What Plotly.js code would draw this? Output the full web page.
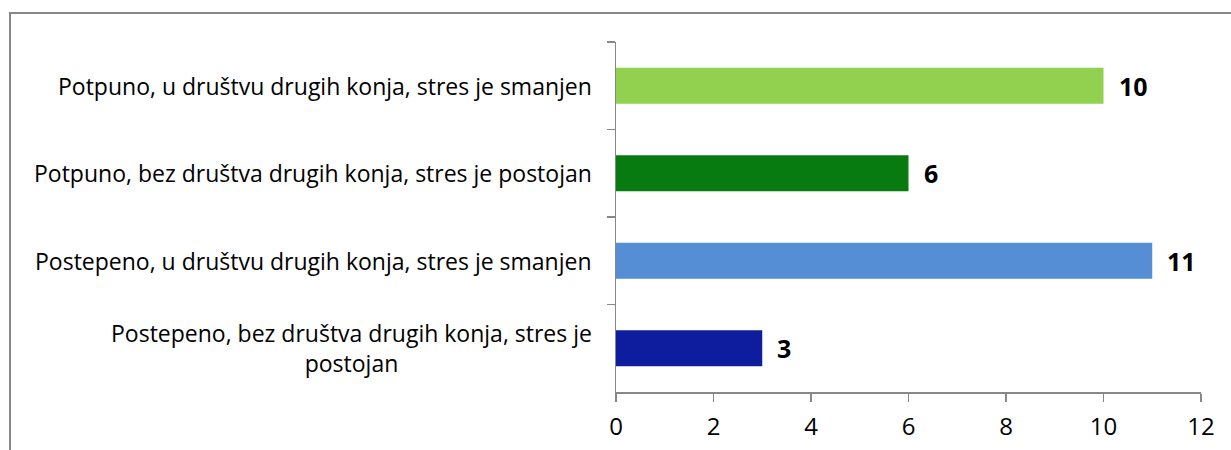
<!DOCTYPE html>
<html>
<head>
<meta charset="utf-8">
<script src="https://cdn.plot.ly/plotly-3.0.1.min.js"></script>
<style>
  body { margin: 0; background: #fff; }
  #wrap { position: relative; width: 1231px; height: 450px; overflow: hidden; }
  #chart { width: 1231px; height: 450px; }
  #frame {
    position: absolute; left: 9px; top: 12px; width: 1300px; height: 500px;
    border: 2px solid #888888; pointer-events: none;
  }
</style>
</head>
<body>
<div id="wrap">
  <div id="chart"></div>
  <div id="frame"></div>
</div>
<script>
// categories top to bottom
var categories = [
  "Potpuno, u društvu drugih konja, stres je smanjen",
  "Potpuno, bez društva drugih konja, stres je postojan",
  "Postepeno, u društvu drugih konja, stres je smanjen",
  "Postepeno, bez društva drugih konja, stres je<br>postojan"
];
var values = [10, 6, 11, 3];
var barColors = ["#92D050", "#077A10", "#558ED5", "#0E1C9E"];
var xTicks = [0, 2, 4, 6, 8, 10, 12];

var keys = ["c0", "c1", "c2", "c3"];

var trace = {
  type: "bar",
  orientation: "h",
  x: values,
  y: keys,
  width: 0.41,
  marker: { color: barColors },
  hoverinfo: "x"
};

var annotations = [];
// category labels (so the wrapped one can be centred like the original)
categories.forEach(function (c, i) {
  annotations.push({
    x: 0, xref: "paper", xanchor: "right", xshift: -22,
    y: keys[i], yref: "y", yanchor: "middle",
    text: c, align: "center", showarrow: false,
    font: { family: "Open Sans, sans-serif", size: 23, color: "#000" }
  });
});
// data labels
values.forEach(function (v, i) {
  annotations.push({
    x: v, xref: "x", xanchor: "left", xshift: 13,
    y: keys[i], yref: "y", yanchor: "middle",
    text: "<b>" + v + "</b>", showarrow: false,
    font: { family: "Open Sans, sans-serif", size: 25, color: "#000" }
  });
});

var layout = {
  width: 1231,
  height: 450,
  margin: { l: 616, r: 30, t: 42, b: 58 },
  paper_bgcolor: "#fff",
  plot_bgcolor: "#fff",
  showlegend: false,
  xaxis: {
    range: [0, 12],
    tickvals: xTicks,
    ticks: "outside",
    ticklen: 8,
    tickcolor: "#888",
    tickwidth: 1.5,
    ticklabelstandoff: 5,
    showline: true,
    linecolor: "#888",
    linewidth: 1.5,
    showgrid: false,
    zeroline: false,
    fixedrange: true,
    tickfont: { family: "Open Sans, sans-serif", size: 24, color: "#000" }
  },
  yaxis: {
    type: "category",
    autorange: "reversed",
    showticklabels: false,
    ticks: "outside",
    tickson: "boundaries",
    ticklen: 8,
    tickcolor: "#888",
    tickwidth: 1.5,
    showline: true,
    linecolor: "#888",
    linewidth: 1.5,
    showgrid: false,
    zeroline: false,
    fixedrange: true
  },
  annotations: annotations
};

Plotly.newPlot("chart", [trace], layout, { displayModeBar: false, staticPlot: true });
</script>
</body>
</html>
